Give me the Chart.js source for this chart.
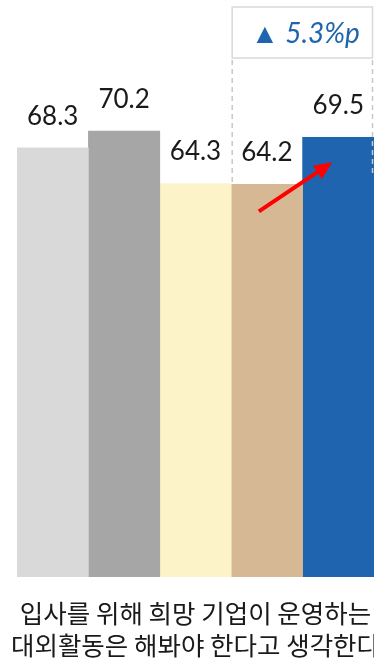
<!DOCTYPE html>
<html>
<head>
<meta charset="utf-8">
<script src="https://cdn.jsdelivr.net/npm/chart.js@4"></script>
<style>
  html, body { margin: 0; padding: 0; background: #fff; }
  #wrap { width: 374px; height: 659px; }
</style>
</head>
<body>
<div id="wrap"><canvas id="barChart"></canvas></div>
<script>
// Data
const categories = [['입사를 위해 희망 기업이 운영하는', '대외활동은 해봐야 한다고 생각한다']];
const seriesNames = ['A', 'B', 'C', 'D', 'E'];
const seriesValues = [68.3, 70.2, 64.3, 64.2, 69.5];
const seriesColors = ['#d9d9d9', '#a6a6a6', '#fcf3c8', '#d6b894', '#1e64ae'];
const changeLabel = '▲ 5.3%p';

// value labels above each bar
const valueLabels = {
    id: 'valueLabels',
    afterDatasetsDraw(chart) {
        const ctx = chart.ctx;
        ctx.save();
        ctx.font = '26px Lato, "Noto Sans", sans-serif';
        ctx.fillStyle = '#1a1a1a';
        ctx.textAlign = 'center';
        ctx.textBaseline = 'alphabetic';
        chart.data.datasets.forEach((ds, i) => {
            const bar = chart.getDatasetMeta(i).data[0];
            ctx.fillText(ds.data[0].toFixed(1), bar.x, bar.y - 23);
        });
        ctx.restore();
    }
};

// dashed box around the last two bars, plus the red arrow
const changeBox = {
    id: 'changeBox',
    afterDatasetsDraw(chart) {
        const ctx = chart.ctx;
        const b4 = chart.getDatasetMeta(3).data[0];
        const b5 = chart.getDatasetMeta(4).data[0];
        const left = b4.x - b4.width / 2 + 1;
        const right = b5.x + b5.width / 2 - 1.5;
        ctx.save();

        // label box
        ctx.strokeStyle = '#d9d9d9';
        ctx.lineWidth = 1.5;
        ctx.strokeRect(left, 7, right - left, 51);
        ctx.fillStyle = '#1e64ae';
        ctx.font = 'italic 28px Lato, "Noto Sans", sans-serif';
        ctx.textAlign = 'center';
        ctx.textBaseline = 'middle';
        ctx.fillText(changeLabel, (left + right) / 2 + 3, 34);

        // dashed sides
        ctx.setLineDash([5, 4]);
        ctx.strokeStyle = '#c8c8c8';
        ctx.beginPath();
        ctx.moveTo(left, 60); ctx.lineTo(left, b4.y);
        ctx.moveTo(right, 60); ctx.lineTo(right, 175);
        ctx.stroke();
        ctx.setLineDash([]);

        // arrow
        const x1 = b4.x - 8, y1 = b4.y + 27;
        const x2 = b5.x - 6, y2 = b5.y + 25;
        const ang = Math.atan2(y2 - y1, x2 - x1);
        ctx.strokeStyle = '#ff0000';
        ctx.fillStyle = '#ff0000';
        ctx.lineWidth = 4;
        ctx.beginPath();
        ctx.moveTo(x1, y1);
        ctx.lineTo(x2 - 12 * Math.cos(ang), y2 - 12 * Math.sin(ang));
        ctx.stroke();
        ctx.beginPath();
        ctx.moveTo(x2, y2);
        ctx.lineTo(x2 - 18 * Math.cos(ang) + 8 * Math.sin(ang), y2 - 18 * Math.sin(ang) - 8 * Math.cos(ang));
        ctx.lineTo(x2 - 18 * Math.cos(ang) - 8 * Math.sin(ang), y2 - 18 * Math.sin(ang) + 8 * Math.cos(ang));
        ctx.closePath();
        ctx.fill();
        ctx.restore();
    }
};

const ctx = document.getElementById('barChart').getContext('2d');
new Chart(ctx, {
    type: 'bar',
    data: {
        labels: categories,
        datasets: seriesNames.map((name, i) => ({
            label: name,
            data: [seriesValues[i]],
            backgroundColor: seriesColors[i],
            borderWidth: 0,
            categoryPercentage: 1.0,
            barPercentage: 1.0
        }))
    },
    options: {
        responsive: true,
        maintainAspectRatio: false,
        animation: false,
        layout: { padding: { top: 44, left: 17, right: 0, bottom: 0 } },
        scales: {
            x: {
                grid: { display: false },
                border: { display: false },
                ticks: {
                    color: '#1a1a1a',
                    padding: 12,
                    maxRotation: 0,
                    autoSkip: false,
                    font: { family: '"Noto Sans CJK KR", sans-serif', size: 25.5, lineHeight: 1.26 }
                },
                afterFit(scale) {
                    // let the long label run past the edges instead of shrinking the bars
                    scale.paddingLeft = 0;
                    scale.paddingRight = 0;
                    scale.height = 82;
                }
            },
            y: {
                display: false,
                min: 20,
                max: 80
            }
        },
        plugins: {
            legend: { display: false },
            tooltip: { enabled: false }
        }
    },
    plugins: [valueLabels, changeBox]
});
</script>
</body>
</html>
